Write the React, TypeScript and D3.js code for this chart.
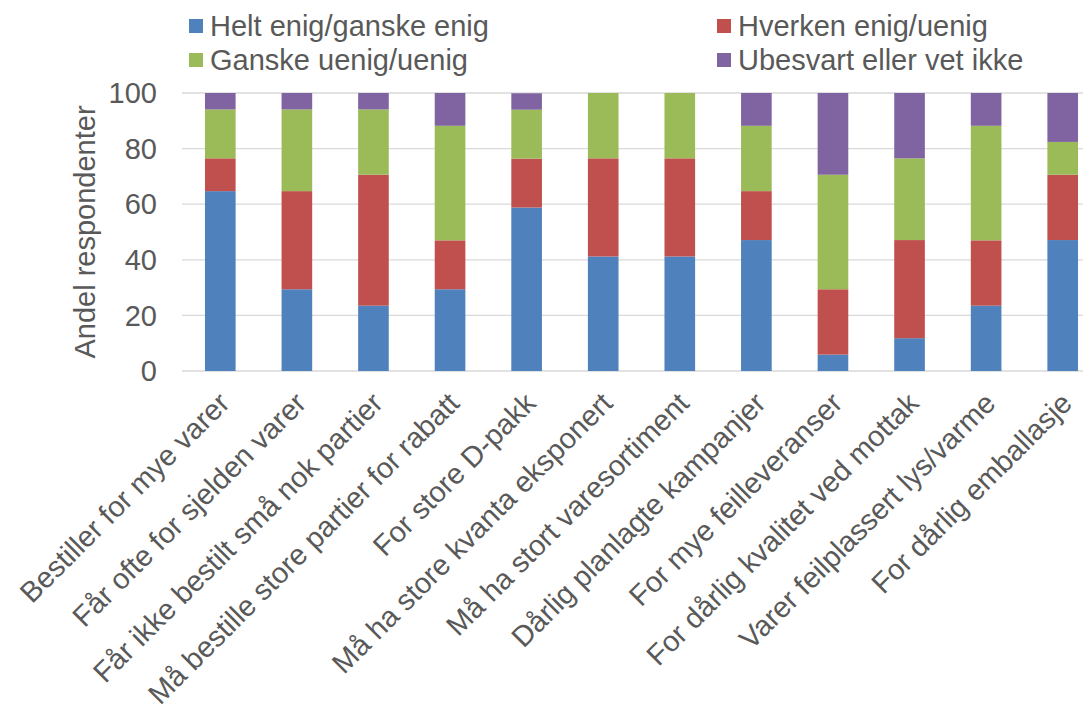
import { useEffect, useRef } from 'react';
import * as d3 from 'd3';

const categories = [
  'Bestiller for mye varer',
  'Får ofte for sjelden varer',
  'Får ikke bestilt små nok partier',
  'Må bestille store partier for rabatt',
  'For store D-pakk',
  'Må ha store kvanta eksponert',
  'Må ha stort varesortiment',
  'Dårlig planlagte kampanjer',
  'For mye feilleveranser',
  'For dårlig kvalitet ved mottak',
  'Varer feilplassert lys/varme',
  'For dårlig emballasje',
];

const seriesNames = ['Helt enig/ganske enig', 'Hverken enig/uenig', 'Ganske uenig/uenig', 'Ubesvart eller vet ikke'];
const seriesColors = ['#4F81BD', '#C0504D', '#9BBB59', '#8064A2'];

const enig = [64.7, 29.4, 23.5, 29.4, 58.8, 41.2, 41.2, 47.1, 5.9, 11.8, 23.5, 47.1];
const hverken = [11.8, 35.3, 47.1, 17.6, 17.6, 35.3, 35.3, 17.6, 23.5, 35.3, 23.5, 23.5];
const uenig = [17.6, 29.4, 23.5, 41.2, 17.6, 23.5, 23.5, 23.5, 41.2, 29.4, 41.2, 11.8];
const ubesvart = [5.9, 5.9, 5.9, 11.8, 5.9, 0, 0, 11.8, 29.4, 23.5, 11.8, 17.6];

const yTicks = [0, 20, 40, 60, 80, 100];

export default function App() {
  const ref = useRef<SVGSVGElement>(null);

  useEffect(() => {
    if (!ref.current) return;
    const svg = d3.select(ref.current);
    svg.selectAll('*').remove();

    const width = 1091;
    const font = '"Liberation Sans", Arial, sans-serif';
    const textColor = '#595959';
    const fs = 29;

    const x = d3.scaleBand<string>().domain(categories).range([182, 1101]).paddingInner(0.6).paddingOuter(0.3);
    const y = d3.scaleLinear().domain([0, 100]).range([371, 93]);

    const rows = categories.map((c, i) => ({
      cat: c,
      s0: enig[i],
      s1: hverken[i],
      s2: uenig[i],
      s3: ubesvart[i],
    }));
    const stack = d3.stack<any>().keys(['s0', 's1', 's2', 's3'])(rows);

    // grid
    svg.append('g')
      .selectAll('line')
      .data(yTicks)
      .enter()
      .append('line')
      .attr('x1', 182)
      .attr('x2', width)
      .attr('y1', d => y(d))
      .attr('y2', d => y(d))
      .attr('stroke', '#D9D9D9')
      .attr('stroke-width', 1.3);

    // bars
    stack.forEach((layer, si) => {
      svg.append('g')
        .selectAll('rect')
        .data(layer)
        .enter()
        .append('rect')
        .attr('x', d => x(d.data.cat)!)
        .attr('width', x.bandwidth())
        .attr('y', d => y(d[1]))
        .attr('height', d => y(d[0]) - y(d[1]))
        .attr('fill', seriesColors[si]);
    });

    // y tick labels
    svg.append('g')
      .selectAll('text')
      .data(yTicks)
      .enter()
      .append('text')
      .attr('x', 157)
      .attr('y', d => y(d))
      .attr('dy', '0.35em')
      .attr('text-anchor', 'end')
      .attr('font-family', font)
      .attr('font-size', fs)
      .attr('fill', textColor)
      .text(d => d);

    // y axis title
    svg.append('text')
      .attr('transform', `translate(95,${(y(0) + y(100)) / 2}) rotate(-90)`)
      .attr('text-anchor', 'middle')
      .attr('font-family', font)
      .attr('font-size', fs)
      .attr('fill', textColor)
      .text('Andel respondenter');

    // x labels
    svg.append('g')
      .selectAll('text')
      .data(categories)
      .enter()
      .append('text')
      .attr('transform', d => `translate(${x(d)! + x.bandwidth() / 2 + 11},${405}) rotate(-45)`)
      .attr('text-anchor', 'end')
      .attr('font-family', font)
      .attr('font-size', fs)
      .attr('fill', textColor)
      .text(d => d);

    // legend
    const legendPos = [[189, 26], [717, 26], [189, 60], [717, 60]];
    seriesNames.forEach((name, i) => {
      const [lx, ly] = legendPos[i];
      svg.append('rect')
        .attr('x', lx)
        .attr('y', ly - 7)
        .attr('width', 14)
        .attr('height', 14)
        .attr('fill', seriesColors[i]);
      svg.append('text')
        .attr('x', lx + 21)
        .attr('y', ly)
        .attr('dy', '0.35em')
        .attr('font-family', font)
        .attr('font-size', fs)
        .attr('fill', textColor)
        .text(name);
    });
  }, []);

  return (
    <div style={{ margin: -8 }}>
      <svg ref={ref} width={1091} height={716} style={{ display: 'block' }} />
    </div>
  );
}
